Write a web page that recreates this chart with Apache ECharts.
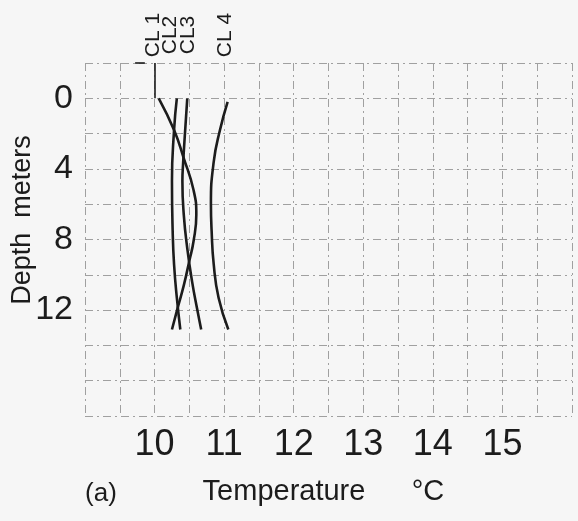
<!DOCTYPE html>
<html>
<head>
<meta charset="utf-8">
<style>
  html, body { margin: 0; padding: 0; background: #f6f6f6; }
  #chart { width: 578px; height: 521px; }
</style>
<script src="https://cdn.jsdelivr.net/npm/echarts@6/dist/echarts.min.js"></script>
</head>
<body>
<div id="chart"></div>
<script>
// Temperature profiles (°C) against depth (m) for four casts
const seriesNames = ['CL 1', 'CL2', 'CL3', 'CL 4'];

const depthCL1 = [0, 1.8, 3.4, 5.2, 6.6, 8.1, 9.2, 10.6, 11.9, 13.1];
const tempCL1  = [10.06, 10.28, 10.42, 10.56, 10.60, 10.56, 10.50, 10.42, 10.33, 10.25];

const depthCL2 = [0, 1.8, 4.7, 7.5, 9.4, 11.3, 13.1];
const tempCL2  = [10.32, 10.28, 10.25, 10.26, 10.28, 10.32, 10.37];

const depthCL3 = [0, 1.8, 3.7, 4.7, 6.6, 8.5, 10.4, 11.9, 13.1];
const tempCL3  = [10.47, 10.44, 10.41, 10.40, 10.42, 10.47, 10.54, 10.61, 10.67];

const depthCL4 = [0.2, 1.8, 3.6, 6.0, 7.5, 9.4, 11.3, 13.1];
const tempCL4  = [11.05, 10.94, 10.85, 10.81, 10.82, 10.85, 10.92, 11.06];

const tempTicks  = [10, 11, 12, 13, 14, 15];
const depthTicks = [0, 4, 8, 12];

const profiles = [
  [tempCL1, depthCL1],
  [tempCL2, depthCL2],
  [tempCL3, depthCL3],
  [tempCL4, depthCL4]
];

const ink = '#1c1c1c';
const gridLine = {
  show: true,
  lineStyle: { color: '#a0a0a0', width: 1, type: [8, 4, 2, 4] }
};
const numFont = "'Liberation Sans', Arial, sans-serif";

const chart = echarts.init(document.getElementById('chart'), null, { renderer: 'canvas' });

const series = profiles.map(function (p, i) {
  const s = {
    name: seriesNames[i],
    type: 'line',
    smooth: 0.5,
    showSymbol: false,
    symbol: 'none',
    lineStyle: { color: ink, width: 2.6 },
    data: p[0].map(function (t, k) { return [t, p[1][k]]; }),
    animation: false
  };
  if (i === 0) {
    // short reference stroke above the 10 °C line
    s.markLine = {
      silent: true,
      symbol: 'none',
      label: { show: false },
      lineStyle: { color: ink, width: 1.6, type: 'solid' },
      data: [
        [{ coord: [10, -2] }, { coord: [10, 0] }],
        [{ coord: [9.72, -2] }, { coord: [9.86, -2] }]
      ]
    };
  }
  return s;
});

const option = {
  backgroundColor: '#f6f6f6',
  animation: false,
  grid: { left: 85, right: 6, top: 63, bottom: 105, containLabel: false },
  xAxis: {
    type: 'value',
    min: 9, max: 16, interval: 0.5,
    axisLine: { show: false },
    axisTick: { show: false },
    splitLine: gridLine,
    axisLabel: {
      margin: 11,
      fontFamily: numFont,
      fontSize: 36,
      color: ink,
      formatter: function (v) { return tempTicks.indexOf(v) >= 0 ? String(v) : ''; }
    }
  },
  yAxis: {
    type: 'value',
    inverse: true,
    min: -2, max: 18, interval: 2,
    axisLine: { show: false },
    axisTick: { show: false },
    splitLine: gridLine,
    axisLabel: {
      margin: 12,
      fontFamily: numFont,
      fontSize: 34,
      color: ink,
      formatter: function (v) { return depthTicks.indexOf(v) >= 0 ? String(v) : ''; }
    }
  },
  graphic: [
    { type: 'text', x: 23, y: 220, rotation: Math.PI / 2,
      style: { text: 'Depth  meters', fill: ink, font: "27px 'Liberation Sans', Arial, sans-serif",
               align: 'center', verticalAlign: 'middle' } },
    { type: 'text', x: 101, y: 494,
      style: { text: '(a)', fill: ink, font: "26px 'Liberation Sans', Arial, sans-serif",
               align: 'center', verticalAlign: 'middle' } },
    { type: 'text', x: 284, y: 492,
      style: { text: 'Temperature', fill: ink, font: "29px 'Liberation Sans', Arial, sans-serif",
               align: 'center', verticalAlign: 'middle' } },
    { type: 'text', x: 428, y: 492,
      style: { text: '°C', fill: ink, font: "29px 'Liberation Sans', Arial, sans-serif",
               align: 'center', verticalAlign: 'middle' } },
    { type: 'text', x: 153, y: 35, rotation: Math.PI / 2,
      style: { text: 'CL 1', fill: ink, font: "21px 'Liberation Sans', Arial, sans-serif",
               align: 'center', verticalAlign: 'middle' } },
    { type: 'text', x: 170, y: 35, rotation: Math.PI / 2,
      style: { text: 'CL2', fill: ink, font: "21px 'Liberation Sans', Arial, sans-serif",
               align: 'center', verticalAlign: 'middle' } },
    { type: 'text', x: 188, y: 35, rotation: Math.PI / 2,
      style: { text: 'CL3', fill: ink, font: "21px 'Liberation Sans', Arial, sans-serif",
               align: 'center', verticalAlign: 'middle' } },
    { type: 'text', x: 225, y: 35, rotation: Math.PI / 2,
      style: { text: 'CL 4', fill: ink, font: "21px 'Liberation Sans', Arial, sans-serif",
               align: 'center', verticalAlign: 'middle' } }
  ],
  series: series
};

chart.setOption(option);
</script>
</body>
</html>
